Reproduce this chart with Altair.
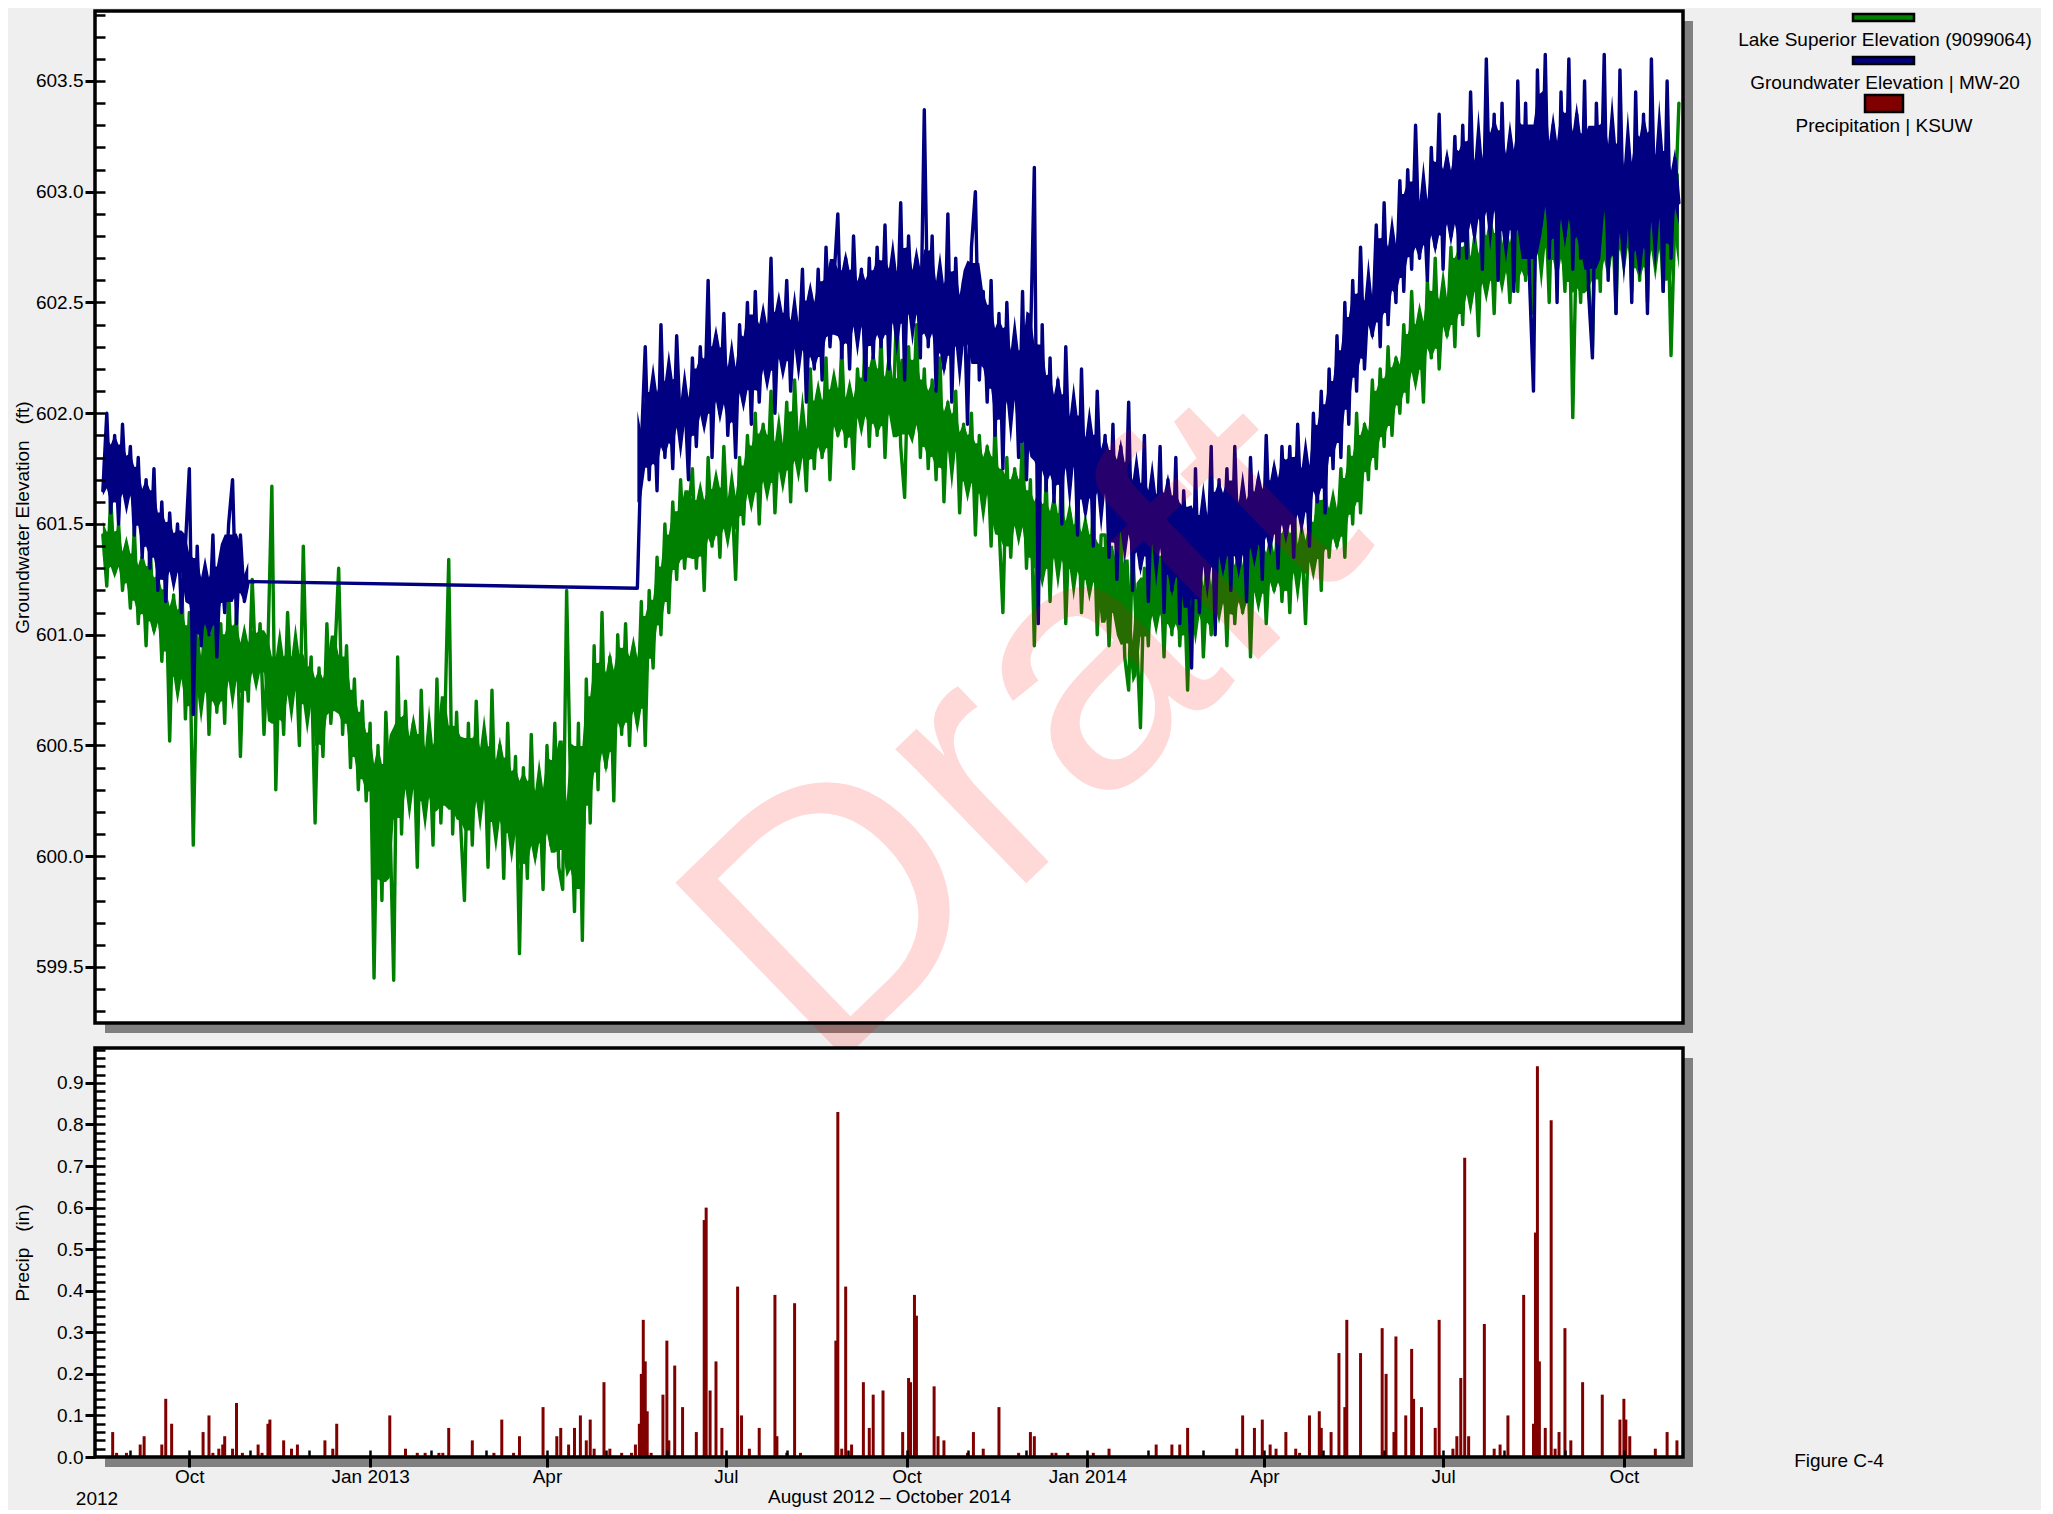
import altair as alt
import numpy as np
import pandas as pd

# ------------------------------------------------------------------ data
START = pd.Timestamp("2012-08-14")   # left edge of the time axis
STEP_DAYS = 2                         # spacing of the level readings below

# Lake Superior Elevation (9099064), ft, every 2 days from day 4 (2012-08-18)
LAKE_FIRST_DAY = 4
lake_superior = [
    601.45, 601.22, 601.62, 601.28, 601.50, 601.20, 601.40, 601.12, 601.48, 601.05, 601.35, 600.95, 601.42, 601.02, 601.30,
    600.88, 601.25, 600.52, 601.18, 600.75, 601.30, 600.62, 601.10, 600.05, 600.95, 600.70, 601.15, 600.55, 601.05, 600.65,
    601.05, 600.60, 601.20, 600.75, 601.10, 600.45, 601.00, 600.70, 601.25, 600.80, 601.05, 600.55, 600.95, 601.67, 600.30,
    600.95, 600.55, 601.10, 600.70, 600.95, 600.50, 601.40, 600.65, 600.90, 600.15, 600.85, 600.45, 601.05, 600.60, 600.90,
    601.30, 600.55, 600.95, 600.40, 600.80, 600.30, 600.70, 600.25, 600.60, 599.45, 600.50, 599.80, 600.65, 600.20, 599.44,
    600.90, 600.10, 600.70, 600.25, 600.60, 599.95, 600.75, 600.20, 600.55, 600.05, 600.80, 600.15, 600.60, 601.34, 600.10,
    600.65, 600.15, 599.80, 600.60, 600.05, 600.70, 600.20, 600.55, 599.95, 600.75, 600.10, 600.50, 599.90, 600.60, 600.05,
    600.45, 599.56, 600.40, 599.90, 600.55, 600.00, 600.35, 599.85, 600.50, 600.05, 600.60, 599.95, 599.85, 601.20, 600.30,
    599.75, 600.60, 599.62, 600.80, 600.15, 600.95, 600.30, 601.10, 600.40, 600.90, 600.25, 601.00, 600.55, 601.05, 600.50,
    600.95, 600.60, 601.15, 600.50, 601.20, 600.85, 601.35, 601.00, 601.50, 601.10, 601.60, 601.25, 601.70, 601.30, 601.55,
    601.75, 601.30, 601.65, 601.20, 601.80, 601.40, 601.70, 601.35, 601.85, 601.45, 601.65, 601.25, 601.80, 601.50, 601.90,
    601.60, 602.00, 601.50, 601.95, 601.65, 602.10, 601.55, 601.90, 601.70, 602.05, 601.60, 602.15, 601.75, 601.95, 601.65,
    602.20, 601.75, 602.10, 601.80, 602.25, 601.70, 602.15, 601.90, 602.30, 601.85, 602.10, 601.75, 602.20, 601.95, 602.35,
    601.85, 602.25, 601.90, 602.35, 601.80, 602.20, 601.95, 602.50, 601.85, 601.62, 602.30, 601.90, 602.40, 601.80, 602.20,
    601.75, 602.15, 601.70, 602.25, 601.60, 602.05, 601.80, 602.10, 601.55, 601.95, 601.65, 602.00, 601.45, 601.90, 601.60,
    601.85, 601.40, 601.95, 601.50, 601.10, 601.80, 601.35, 601.75, 601.45, 601.90, 601.30, 601.70, 600.95, 601.65, 601.25,
    601.70, 601.15, 601.60, 601.30, 601.75, 601.05, 601.55, 601.25, 601.65, 601.10, 601.50, 601.20, 601.60, 601.00, 601.45,
    601.45, 600.95, 601.35, 601.05, 601.50, 600.90, 600.75, 601.40, 601.00, 600.58, 601.30, 600.95, 601.45, 601.05, 601.35,
    600.90, 601.40, 601.00, 601.50, 600.95, 601.30, 600.75, 601.35, 601.05, 601.45, 600.90, 601.25, 601.00, 601.45, 601.10,
    601.40, 600.95, 601.50, 601.05, 601.35, 601.10, 601.55, 600.90, 601.45, 601.15, 601.50, 601.05, 601.40, 601.20, 601.55,
    601.15, 601.50, 601.10, 601.60, 601.25, 601.45, 601.05, 601.55, 601.30, 601.65, 601.20, 601.70, 601.35, 601.60, 601.40,
    601.75, 601.35, 601.85, 601.50, 602.00, 601.55, 601.95, 601.70, 602.15, 601.75, 602.20, 601.85, 602.30, 601.90, 602.25,
    602.00, 602.40, 602.05, 602.55, 602.15, 602.45, 602.05, 602.60, 602.25, 602.70, 602.20, 602.55, 602.35, 602.75, 602.30,
    602.80, 602.40, 602.90, 602.50, 602.75, 602.35, 602.95, 602.55, 602.85, 602.45, 603.00, 602.60, 602.80, 602.50, 602.90,
    602.55, 603.05, 602.60, 602.95, 602.45, 603.10, 602.70, 603.00, 602.50, 603.15, 602.65, 602.90, 602.55, 603.05, 601.98,
    602.85, 602.50, 603.20, 602.60, 602.30, 603.00, 602.55, 603.25, 602.65, 602.95, 602.45, 603.15, 602.70, 603.05, 602.55,
    603.10, 602.60, 603.00, 602.50, 603.20, 602.70, 602.95, 602.55, 603.05, 602.26, 602.90, 603.40,
]

# Groundwater Elevation | MW-20, ft, every 2 days; logger gap Nov 2012 - May 2013
MW20_FIRST_DAY_1 = 4
mw20_part1 = [
    601.65, 602.00, 601.55, 601.90, 601.50, 601.95, 601.60,
    601.85, 601.45, 601.80, 601.35, 601.70, 601.30, 601.75, 601.20, 601.60, 601.15, 601.55, 601.25, 601.50, 601.10, 601.40,
    601.75, 600.64, 601.40, 600.95, 601.30, 601.00, 601.45, 600.90, 601.35, 601.10, 601.50, 601.70, 601.05, 601.45, 601.15, 601.24,
]
MW20_FIRST_DAY_2 = 276
mw20_part2 = [
    601.21, 601.85, 602.30, 601.70, 602.15, 601.65, 602.40, 601.80, 602.20, 601.75, 602.35, 601.90, 602.10, 601.70, 602.25,
    601.85, 602.30, 601.95, 602.60, 601.80, 602.35, 602.00, 602.45, 601.90, 602.25, 601.80, 602.40, 602.05, 602.50, 601.95,
    602.55, 602.05, 602.45, 602.15, 602.70, 602.00, 602.50, 602.20, 602.60, 602.10, 602.45, 602.25, 602.65, 602.05, 602.55,
    602.20, 602.65, 602.15, 602.75, 602.30, 602.60, 602.90, 602.25, 602.70, 602.20, 602.80, 602.35, 602.65, 602.15, 602.70,
    602.25, 602.75, 602.30, 602.85, 602.20, 602.70, 602.35, 602.95, 602.15, 602.80, 602.40, 602.70, 602.25, 603.37, 602.30,
    602.80, 602.10, 602.65, 602.20, 602.90, 602.05, 602.70, 602.25, 602.60, 601.95, 602.75, 603.00, 602.15, 602.55, 602.05,
    602.60, 601.90, 602.45, 601.75, 602.50, 602.00, 602.35, 601.80, 602.55, 601.70, 602.30, 603.11, 601.05, 602.40, 601.65,
    602.25, 601.60, 602.15, 601.50, 602.30, 601.70, 602.05, 601.45, 602.20, 601.55, 601.95, 601.40, 602.10, 601.60, 601.90,
    601.35, 601.95, 601.25, 601.85, 601.40, 602.05, 601.20, 601.75, 601.30, 601.90, 601.15, 601.70, 601.35, 601.85, 601.10,
    601.70, 601.20, 601.80, 601.05, 601.65, 601.30, 600.85, 601.75, 601.10, 601.60, 601.25, 601.85, 601.00, 601.70, 601.30,
    601.75, 601.20, 601.85, 601.30, 601.65, 601.15, 601.80, 601.35, 601.70, 601.25, 601.90, 601.40, 601.75, 601.30, 601.85,
    601.45, 601.85, 601.35, 601.95, 601.50, 601.80, 601.40, 602.00, 601.60, 602.10, 601.55, 602.20, 601.75, 602.35, 601.80,
    602.50, 601.95, 602.60, 602.10, 602.75, 602.20, 602.55, 602.35, 602.85, 602.30, 602.95, 602.40, 602.80, 602.50, 603.05,
    602.55, 603.10, 602.65, 603.30, 602.70, 603.00, 602.60, 603.20, 602.75, 603.35, 602.65, 603.15, 602.80, 603.25, 602.70,
    603.30, 602.70, 603.45, 602.80, 603.20, 602.65, 603.60, 602.85, 603.35, 602.60, 603.40, 602.75, 603.25, 602.55, 603.50,
    602.75, 603.40, 602.60, 602.10, 603.55, 602.85, 603.62, 602.70, 603.30, 602.50, 603.45, 602.80, 603.60, 602.65, 603.35,
    602.70, 603.50, 602.55, 602.25, 603.40, 602.85, 603.62, 602.60, 603.30, 602.45, 603.55, 602.75, 603.20, 602.50, 603.45,
    602.65, 603.35, 602.45, 603.60, 602.80, 603.25, 602.55, 603.50, 602.70, 603.15, 602.95,
]

# Precipitation | KSUW, inches; day number counted from START
precip_day = [
    9, 11, 16, 23, 25, 34, 36, 39, 55, 58, 60, 63, 65, 66, 70, 72, 75, 83, 85, 88, 89, 96, 100, 103, 117, 121, 123,
    150, 158, 164, 168, 175, 177, 180, 192, 203, 207, 213, 216, 228, 235, 237, 241, 244, 247, 250, 252, 254, 259, 262,
    268, 273, 275, 277, 278, 279, 280, 281, 283, 289, 291, 292, 295, 299, 306, 310, 311, 313, 316, 319, 327, 329, 333,
    338, 346, 347, 352, 356, 359, 377, 378, 380, 382, 385, 391, 394, 396, 401, 411, 414, 415, 417, 418, 427, 429, 432,
    444, 447, 452, 460, 470, 476, 478, 487, 489, 495, 508, 516, 540, 548, 552, 556, 581, 584, 590, 594, 598, 601, 606,
    611, 613, 618, 623, 624, 629, 633, 636, 637, 644, 655, 657, 661, 662, 667, 670, 671, 675, 682, 684, 691, 693, 695,
    697, 699, 707, 712, 715, 719, 727, 732, 733, 734, 735, 738, 741, 743, 745, 748, 751, 757, 767, 776, 778, 779, 781,
    794, 800, 805,
]
precip_in = [
    0.06, 0.01, 0.01, 0.03, 0.05, 0.03, 0.14, 0.08, 0.06, 0.10, 0.01, 0.02, 0.03, 0.05, 0.02, 0.13, 0.01, 0.03, 0.01, 0.08, 0.09, 0.04, 0.02, 0.03, 0.04, 0.02, 0.08,
    0.10, 0.02, 0.01, 0.01, 0.01, 0.01, 0.07, 0.04, 0.01, 0.09, 0.01, 0.05, 0.12, 0.05, 0.07, 0.03, 0.07, 0.10, 0.04, 0.09, 0.02, 0.18, 0.02,
    0.01, 0.01, 0.03, 0.08, 0.20, 0.33, 0.23, 0.11, 0.01, 0.15, 0.28, 0.04, 0.22, 0.12, 0.06, 0.57, 0.60, 0.16, 0.23, 0.07, 0.41, 0.10, 0.02,
    0.07, 0.39, 0.05, 0.01, 0.37, 0.01, 0.28, 0.83, 0.02, 0.41, 0.03, 0.18, 0.07, 0.15, 0.16, 0.06, 0.19, 0.18, 0.39, 0.34, 0.17, 0.05, 0.04,
    0.01, 0.06, 0.02, 0.12, 0.01, 0.06, 0.05, 0.01, 0.01, 0.01, 0.01, 0.02, 0.03, 0.03, 0.03, 0.07, 0.02, 0.10, 0.07, 0.09, 0.03, 0.02, 0.06,
    0.02, 0.01, 0.10, 0.11, 0.07, 0.06, 0.25, 0.12, 0.33, 0.25, 0.31, 0.20, 0.06, 0.29, 0.10, 0.26, 0.14, 0.12, 0.07, 0.33, 0.02, 0.05, 0.19,
    0.72, 0.05, 0.32, 0.02, 0.03, 0.10, 0.39, 0.08, 0.54, 0.94, 0.23, 0.07, 0.81, 0.02, 0.06, 0.31, 0.04, 0.18, 0.15, 0.09, 0.14, 0.09, 0.05,
    0.02, 0.06, 0.04,
]

series_names = ["Lake Superior Elevation (9099064)", "Groundwater Elevation | MW-20", "Precipitation | KSUW"]
series_colors = ["#008000", "#000080", "#800000"]


def level_frame(values, first_day, segment):
    days = first_day + STEP_DAYS * np.arange(len(values))
    return pd.DataFrame({"date": START + pd.to_timedelta(days, unit="D"), "value": values, "seg": segment})


lake_df = level_frame(lake_superior, LAKE_FIRST_DAY, 0)
gw_df = pd.concat([level_frame(mw20_part1, MW20_FIRST_DAY_1, 0),
                   level_frame(mw20_part2, MW20_FIRST_DAY_2, 1)], ignore_index=True)
precip_df = pd.DataFrame({"date": START + pd.to_timedelta(precip_day, unit="D"), "precip": precip_in})

# ------------------------------------------------------------------ style / layout
FONT = "Liberation Sans"
FS = 19
W = 1588
H1 = 1012
H2 = 409
one = alt.Data(values=[{}])

xs = alt.Scale(domain=[alt.DateTime(year=2012, month=8, date=14),
                       alt.DateTime(year=2014, month=10, date=31, hours=2)])
y1s = alt.Scale(domain=[599.247, 603.816], nice=False, zero=False)
y2s = alt.Scale(domain=[0, 0.984], nice=False, zero=False)

major_ft = [round(599.5 + 0.5 * i, 1) for i in range(9)]
minor_ft = [round(599.3 + 0.1 * i, 1) for i in range(46)]
major_in = [round(0.1 * i, 1) for i in range(10)]
minor_in = [round(0.02 * i, 2) for i in range(1, 50)]
months = pd.date_range("2012-09-01", "2014-10-01", freq="MS")
month_ticks = [alt.DateTime(year=int(d.year), month=int(d.month), date=1) for d in months]
quarter_ticks = [alt.DateTime(year=int(d.year), month=int(d.month), date=1) for d in months if d.month in (1, 4, 7, 10)]


def frame(h):
    shadow = alt.Chart(one).mark_rect(color="#808080").encode(
        x=alt.value(10), x2=alt.value(W + 10), y=alt.value(10), y2=alt.value(h + 10))
    face = alt.Chart(one).mark_rect(color="white").encode(
        x=alt.value(0), x2=alt.value(W), y=alt.value(0), y2=alt.value(h))
    border = alt.Chart(one).mark_rect(filled=False, stroke="black", strokeWidth=3.5).encode(
        x=alt.value(0), x2=alt.value(W), y=alt.value(0), y2=alt.value(h))
    return shadow, face, border


def label(txt, xc, yc, size=FS):
    return alt.Chart(one).mark_text(text=txt, font=FONT, fontSize=size, color="black",
                                    align="center", baseline="middle").encode(
        x=alt.value(xc), y=alt.value(yc))


def swatch(fill, x0, x1, y0, y1):
    return alt.Chart(one).mark_rect(fill=fill, stroke="black", strokeWidth=2.5).encode(
        x=alt.value(x0), x2=alt.value(x1), y=alt.value(y0), y2=alt.value(y1))


def dense_core(df, color):
    # the hourly record paints a solid core between the spikes: shade the
    # inter-quartile range of neighbouring readings
    return alt.Chart(df).transform_window(
        q1v="q1(value)", q3v="q3(value)", frame=[-2, 2], groupby=["seg"],
        sort=[alt.SortField("date")]
    ).transform_calculate(
        core_lo="datum.q1v + 0.12 * (datum.q3v - datum.q1v)",
        core_hi="datum.q3v - 0.12 * (datum.q3v - datum.q1v)",
    ).mark_area(color=color, opacity=1).encode(
        x=alt.X("date:T", scale=xs, axis=None),
        y=alt.Y("core_lo:Q", scale=y1s, axis=None),
        y2="core_hi:Q",
        detail="seg:N")


# ------------------------------------------------------------------ upper panel
sh1, face1, border1 = frame(H1)
line_style = dict(strokeWidth=3.4, strokeJoin="round", strokeCap="round")

lake_line = alt.Chart(lake_df).mark_line(color=series_colors[0], **line_style).encode(
    x=alt.X("date:T", scale=xs, axis=None),
    y=alt.Y("value:Q", scale=y1s, axis=alt.Axis(
        orient="left", values=major_ft, format=".1f", tickSize=10, tickWidth=3, domain=False,
        labelPadding=2, minExtent=61, maxExtent=61, zindex=1, grid=False,
        title="Groundwater Elevation\u00a0\u00a0\u00a0(ft)", titlePadding=2)))

gw_line = alt.Chart(gw_df).mark_line(color=series_colors[1], **line_style).encode(
    x=alt.X("date:T", scale=xs, axis=None),
    y=alt.Y("value:Q", scale=y1s, axis=alt.Axis(
        orient="left", values=minor_ft, labels=False, domain=False, tickSize=10, tickWidth=2.5,
        offset=-10, zindex=1, grid=False, title="")))

draft = alt.Chart(one).mark_text(text="Draft", font=FONT, fontSize=355, color="#ff0000", opacity=0.15,
                                 angle=316, align="center", baseline="middle").encode(
    x=alt.XDatum(alt.DateTime(year=2013, month=12, date=1), type="temporal", scale=xs, axis=None),
    y=alt.YDatum(600.55, type="quantitative", scale=y1s, axis=None))

legend_layers = [
    swatch(series_colors[0], 1758, 1819, 3, 10), label(series_names[0], 1790, 29),
    swatch(series_colors[1], 1758, 1819, 46, 53), label(series_names[1], 1790, 72),
    swatch(series_colors[2], 1770, 1808, 84, 101), label(series_names[2], 1789, 115),
]

upper = alt.layer(sh1, face1,
                  dense_core(lake_df, series_colors[0]), lake_line,
                  dense_core(gw_df, series_colors[1]), gw_line,
                  draft, border1, *legend_layers).resolve_axis(
    y="independent").properties(width=W, height=H1)

# ------------------------------------------------------------------ lower panel
sh2, face2, border2 = frame(H2)

precip_bars = alt.Chart(precip_df).mark_rule(color=series_colors[2], strokeWidth=3).encode(
    x=alt.X("date:T", scale=xs, axis=alt.Axis(
        orient="bottom", values=quarter_ticks, tickSize=10, tickWidth=3, domain=False, labelPadding=0,
        labelExpr="month(datum.value) == 0 ? timeFormat(datum.value, '%b %Y') : timeFormat(datum.value, '%b')",
        labelOverlap=False, labelFlush=False, zindex=1, grid=False,
        title="August 2012 \u2013 October 2014", titlePadding=1)),
    y=alt.Y("precip:Q", scale=y2s, axis=alt.Axis(
        orient="left", values=major_in, format=".1f", tickSize=10, tickWidth=3, domain=False,
        labelPadding=2, minExtent=61, maxExtent=61, zindex=1, grid=False,
        title="Precip\u00a0\u00a0\u00a0(in)", titlePadding=2)),
    y2=alt.datum(0))

minor_axes = alt.Chart(precip_df).mark_point(opacity=0).encode(
    x=alt.X("date:T", scale=xs, axis=alt.Axis(
        orient="bottom", values=month_ticks, labels=False, domain=False, tickSize=7, tickWidth=2.5,
        offset=-7, zindex=1, grid=False, title="")),
    y=alt.Y("precip:Q", scale=y2s, axis=alt.Axis(
        orient="left", values=minor_in, labels=False, domain=False, tickSize=10, tickWidth=2.5,
        offset=-10, zindex=1, grid=False, title="")))

lower = alt.layer(sh2, face2, precip_bars, minor_axes, border2,
                  label("2012", 2, 451), label("Figure C-4", 1744, 413)).resolve_axis(
    x="independent", y="independent").properties(width=W, height=H2)

chart = alt.vconcat(upper, lower, spacing=25, bounds="flush").properties(
    background="#efefef",
    padding={"left": 4, "top": 0, "right": 8, "bottom": 0},
).configure_view(stroke="transparent").configure_axis(
    labelFont=FONT, titleFont=FONT, labelFontSize=FS, titleFontSize=FS,
    labelColor="black", titleColor="black", tickColor="black", titleFontWeight="normal",
)

chart.save("out.html", embed_options={"renderer": "svg", "actions": False})
